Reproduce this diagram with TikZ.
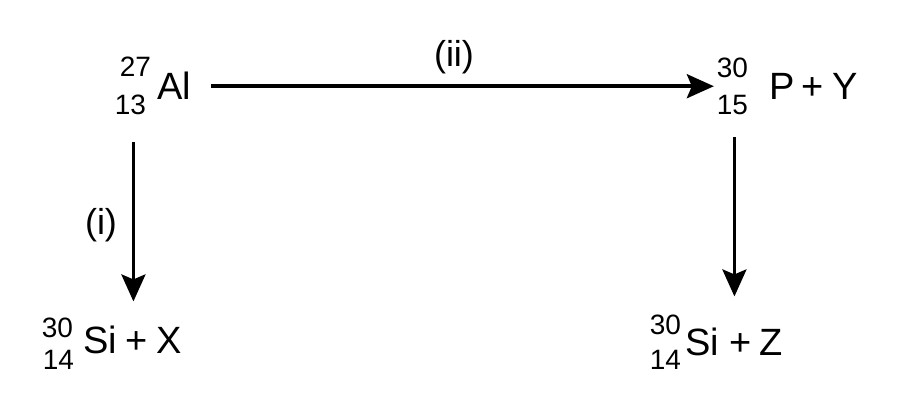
\documentclass[tikz,border=0pt]{standalone}
\usepackage{fontspec}
\setmainfont{Liberation Sans}
\usetikzlibrary{arrows.meta}
\begin{document}
\begin{tikzpicture}[x=1pt,y=1pt,
  sym/.style={inner sep=0pt, outer sep=0pt, font=\fontsize{38}{40}\selectfont, anchor=base west},
  idx/.style={inner sep=0pt, outer sep=0pt, font=\fontsize{28}{30}\selectfont, anchor=base east},
  lbl/.style={inner sep=0pt, outer sep=0pt, font=\fontsize{36}{40}\selectfont, anchor=base},
  arr/.style={line width=3.5pt, -{Stealth[length=27pt,width=24pt,inset=5pt]}}]
\useasboundingbox (0,0) rectangle (900,412);
% top left
\node[sym] (al) at (157,312) {Al};
\node[idx] (al27) at (151,335) {27};
\node[idx] (al13) at (146,297) {13};
% top right
\node[sym] (p) at (769,312) {P\hspace{7pt}+\hspace{9pt}Y};
\node[idx] (p30) at (748,334) {30};
\node[idx] (p15) at (748,297) {15};
% bottom left
\node[sym] (six) at (83,58) {Si\hspace{9pt}+\hspace{9pt}X};
\node[idx] (six30) at (73,74) {30};
\node[idx] (six14) at (74,42) {14};
% bottom right
\node[sym] (siz) at (685,56) {Si\hspace{11pt}+\hspace{8pt}Z};
\node[idx] (siz30) at (681,77) {30};
\node[idx] (siz14) at (681,42) {14};
% labels
\node[lbl] (lii) at (454,345) {(ii)};
\node[lbl] (li) at (101,177) {(i)};
% arrows
\draw[arr] ([xshift=20pt]al.east) -- ([xshift=-3pt]al.east -| p30.west);
\draw[arr] ([xshift=3pt,yshift=-27pt]al13.south) -- ([xshift=3pt,yshift=17pt]al13.south |- six30.north);
\draw[arr] ([xshift=2pt,yshift=-22pt]p15.south) -- ([xshift=2pt,yshift=19pt]p15.south |- siz30.north);
\end{tikzpicture}
\end{document}
